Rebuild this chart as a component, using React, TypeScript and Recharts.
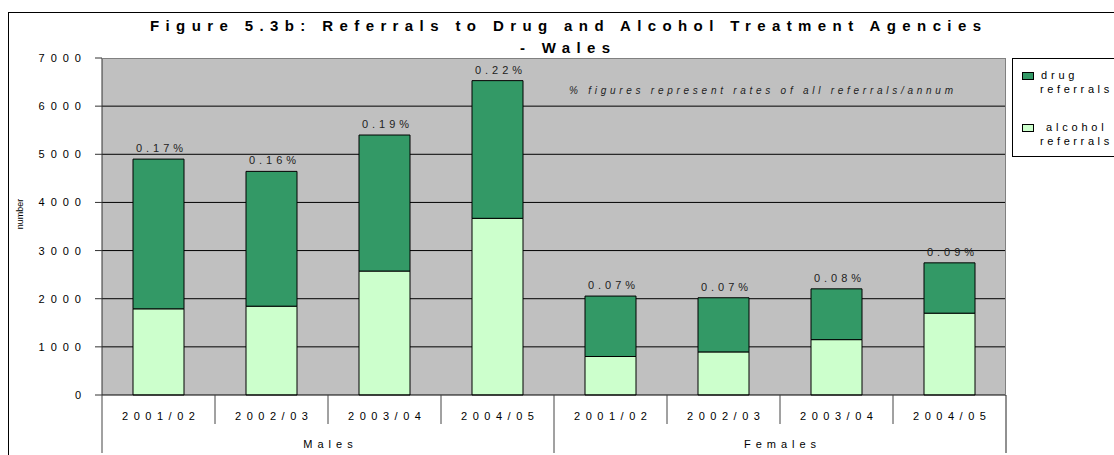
import React from 'react';
import { BarChart, Bar, XAxis, YAxis, CartesianGrid, LabelList } from 'recharts';

const groups = ['Males', 'Females'];
const years = ['2001/02', '2002/03', '2003/04', '2004/05'];
const alcoholReferrals = [1790, 1845, 2575, 3670, 800, 895, 1150, 1700];
const drugReferrals = [3110, 2800, 2825, 2860, 1255, 1125, 1055, 1045];
const rateLabels = ['0.17%', '0.16%', '0.19%', '0.22%', '0.07%', '0.07%', '0.08%', '0.09%'];
const yTicks = [0, 1000, 2000, 3000, 4000, 5000, 6000, 7000];

const FONT = '"Liberation Sans", Arial, sans-serif';
const W = 1114;
const H = 455;
const M = { top: 58, right: 108, bottom: 0, left: 0 };
const Y_W = 102;
const X_H = 60;
const PLOT_L = M.left + Y_W;
const PLOT_R = W - M.right;
const PLOT_T = M.top;
const PLOT_B = H - X_H;

const data = groups.flatMap((g, gi) =>
  years.map((y, yi) => {
    const i = gi * years.length + yi;
    return {
      key: `${g}|${y}`,
      group: g,
      year: y,
      alcohol: alcoholReferrals[i],
      drug: drugReferrals[i],
      rate: rateLabels[i],
    };
  })
);

const BAND = (PLOT_R - PLOT_L) / data.length;

const YTick = (props: any) => {
  const { x, y, payload } = props;
  return (
    <text x={x} y={y} dy={4} textAnchor="end" fontSize={11} fontFamily={FONT} fill="#000" letterSpacing={6}>
      {payload.value}
    </text>
  );
};

// two-level category axis: years, then Males / Females
const XTick = (props: any) => {
  const { x, payload } = props;
  const i = payload.index ?? props.index;
  const row = data[i];
  const left = x - BAND / 2;
  const right = x + BAND / 2;
  const groupStart = i % years.length === 0;
  const isLast = i === data.length - 1;
  const showGroup = i % years.length === 1;
  return (
    <g>
      <line x1={left} x2={left} y1={PLOT_B} y2={groupStart ? PLOT_B + 58 : PLOT_B + 29} stroke="#444" />
      {isLast && <line x1={right} x2={right} y1={PLOT_B} y2={PLOT_B + 58} stroke="#222" />}
      <text x={x + 2.75} y={PLOT_B + 25} textAnchor="middle" fontSize={11} fontFamily={FONT} fill="#000" letterSpacing={5.5}>
        {row.year}
      </text>
      {showGroup && (
        <text x={right + 2.5} y={PLOT_B + 53} textAnchor="middle" fontSize={11} fontFamily={FONT} fill="#000" letterSpacing={5}>
          {row.group}
        </text>
      )}
    </g>
  );
};

const RateLabel = (props: any) => {
  const { x, y, width, value } = props;
  return (
    <text x={x + width / 2 + 3} y={y - 7} textAnchor="middle" fontSize={11} fontFamily={FONT} fill="#222" letterSpacing={4}>
      {value}
    </text>
  );
};

export default function App() {
  return (
    <div style={{ position: 'absolute', left: 0, top: 0, width: W, height: H, background: '#fff' }}>
      <BarChart width={W} height={H} data={data} margin={M} barSize={51}>
        <CartesianGrid
          vertical={false}
          horizontalValues={[1000, 2000, 3000, 4000, 5000, 6000]}
          stroke="#000"
          fill="#C0C0C0"
          fillOpacity={1}
        />
        <XAxis
          dataKey="key"
          height={X_H}
          interval={0}
          tickLine={false}
          axisLine={{ stroke: '#000' }}
          tick={<XTick />}
        />
        <YAxis
          width={Y_W}
          domain={[0, 7000]}
          ticks={yTicks}
          interval={0}
          tickSize={7}
          tickMargin={8}
          tickLine={{ stroke: '#333' }}
          axisLine={{ stroke: '#333' }}
          tick={<YTick />}
        />
        <Bar dataKey="alcohol" stackId="a" fill="#CCFFCC" stroke="#000" strokeWidth={1} isAnimationActive={false} />
        <Bar dataKey="drug" stackId="a" fill="#339966" stroke="#000" strokeWidth={1} isAnimationActive={false}>
          <LabelList dataKey="rate" content={<RateLabel />} />
        </Bar>
      </BarChart>
      <svg width={W} height={H} style={{ position: 'absolute', left: 0, top: 0, pointerEvents: 'none' }}>
        <rect x={8.5} y={12.5} width={1200} height={600} fill="none" stroke="#000" />
        <line x1={PLOT_L} x2={PLOT_R} y1={PLOT_T + 0.5} y2={PLOT_T + 0.5} stroke="#808080" />
        <line x1={PLOT_R - 0.5} x2={PLOT_R - 0.5} y1={PLOT_T} y2={PLOT_B} stroke="#808080" />
        <text x={565.5} y={31} textAnchor="middle" fontSize={15} fontWeight="bold" fontFamily={FONT} fill="#000" textLength={831} lengthAdjust="spacing">
          Figure 5.3b: Referrals to Drug and Alcohol Treatment Agencies
        </text>
        <text x={565} y={53} textAnchor="middle" fontSize={15} fontWeight="bold" fontFamily={FONT} fill="#000" textLength={90} lengthAdjust="spacing">
          - Wales
        </text>
        <text x={569} y={94} fontSize={10} fontStyle="italic" fontFamily={FONT} fill="#222" textLength={384} lengthAdjust="spacing">
          % figures represent rates of all referrals/annum
        </text>
        <text transform="translate(23,214) rotate(-90)" textAnchor="middle" fontSize={9} fontFamily={FONT} fill="#000">
          number
        </text>
        <rect x={1012.5} y={58.5} width={200} height={98} fill="#fff" stroke="#000" />
        <rect x={1022.5} y={72.5} width={11} height={7} fill="#339966" stroke="#000" />
        <text x={1041} y={79} fontSize={11} fontFamily={FONT} fill="#000" letterSpacing={3.8}>drug</text>
        <text x={1040} y={93} fontSize={11} fontFamily={FONT} fill="#000" letterSpacing={3.6}>referrals</text>
        <rect x={1022.5} y={124.5} width={11} height={7} fill="#CCFFCC" stroke="#000" />
        <text x={1046} y={131} fontSize={11} fontFamily={FONT} fill="#000" letterSpacing={3.8}>alcohol</text>
        <text x={1040} y={145} fontSize={11} fontFamily={FONT} fill="#000" letterSpacing={3.6}>referrals</text>
      </svg>
    </div>
  );
}
